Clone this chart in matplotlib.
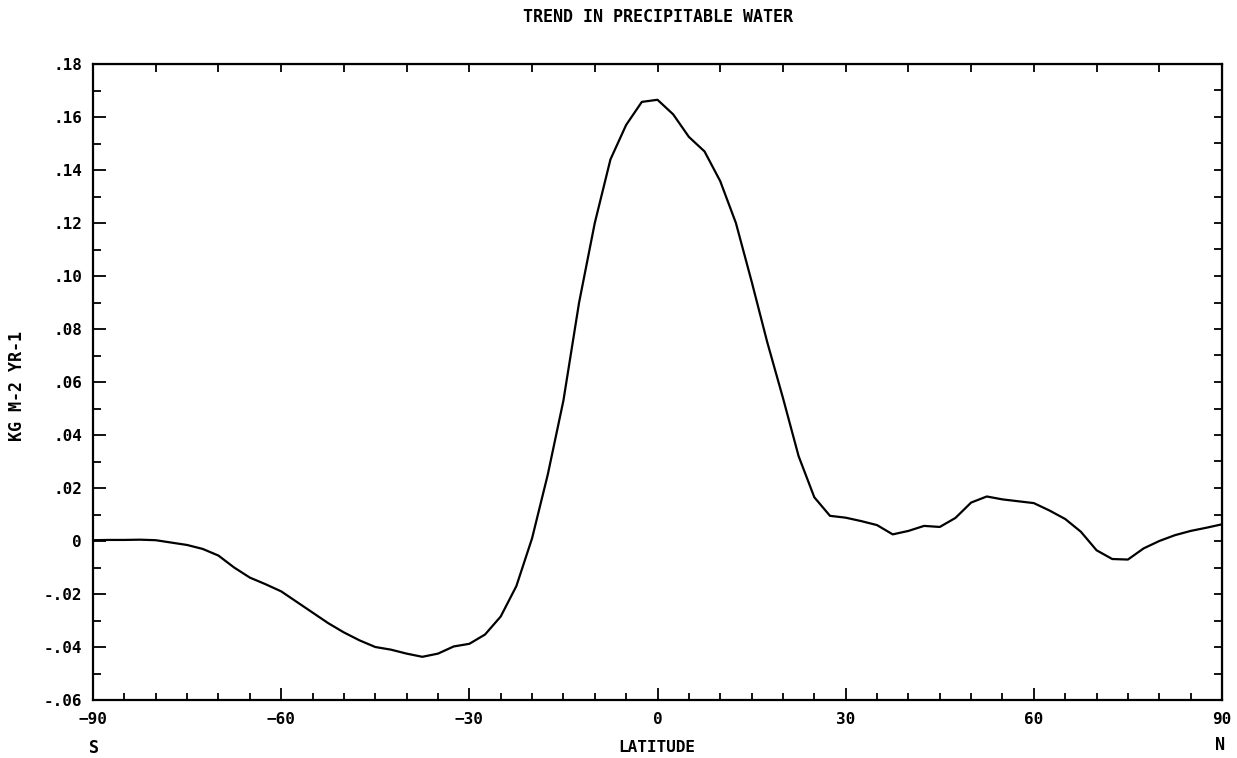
import numpy as np
import matplotlib
matplotlib.use("Agg")
import matplotlib.pyplot as plt
from matplotlib.ticker import MultipleLocator, FuncFormatter

# Zonal-mean trend in precipitable water (kg m-2 yr-1) on a 2.5-degree latitude grid
latitude = np.arange(-90, 90.1, 2.5)
trend = [
    0.0003, 0.0004, 0.0004, 0.0005, 0.0003, -0.0006, -0.0015, -0.0030,
    -0.0055, -0.0100, -0.0138, -0.0163, -0.0190, -0.0230, -0.0270, -0.0310,
    -0.0345, -0.0375, -0.0400, -0.0410, -0.0425, -0.0437, -0.0425, -0.0398,
    -0.0388, -0.0353, -0.0285, -0.0170, 0.0010, 0.0250, 0.0530, 0.0900,
    0.1200, 0.1440, 0.1570, 0.1657, 0.1665, 0.1610, 0.1525, 0.1470,
    0.1358, 0.1200, 0.0980, 0.0750, 0.0540, 0.0320, 0.0165, 0.0095,
    0.0088, 0.0075, 0.0060, 0.0025, 0.0038, 0.0057, 0.0053, 0.0087,
    0.0145, 0.0168, 0.0157, 0.0150, 0.0143, 0.0115, 0.0083, 0.0035,
    -0.0035, -0.0068, -0.0070, -0.0028, 0.0000, 0.0022, 0.0038, 0.0050,
    0.0063,
]

x_ticks = [-90, -60, -30, 0, 30, 60, 90]
y_ticks = [-0.06, -0.04, -0.02, 0.0, 0.02, 0.04, 0.06, 0.08, 0.10,
           0.12, 0.14, 0.16, 0.18]

FONT = "DejaVu Sans Mono"

fig = plt.figure(figsize=(12.37, 7.58), dpi=100)
ax = fig.add_axes([93 / 1237, 1 - 700 / 758, 1129 / 1237, 636 / 758])

ax.plot(latitude, trend, color="black", lw=1.6, solid_joinstyle="round")

ax.set_xlim(-90, 90)
ax.set_ylim(-0.06, 0.18)

for side in ax.spines.values():
    side.set_linewidth(1.6)

# bottom: ticks every 5 degrees, labels every 30
ax.set_xticks(x_ticks)
ax.xaxis.set_minor_locator(MultipleLocator(5))
ax.set_yticks(y_ticks)
ax.yaxis.set_minor_locator(MultipleLocator(0.01))


def ylab(v, _pos=None):
    if abs(v) < 1e-9:
        return "0"
    s = f"{v:.2f}"
    return s.replace("0.", ".")


ax.yaxis.set_major_formatter(FuncFormatter(ylab))
ax.tick_params(axis="both", which="both", direction="in", color="black",
               width=1.3, top=False, right=False)
ax.tick_params(axis="y", which="major", length=9, pad=8)
ax.tick_params(axis="y", which="minor", length=6)
ax.tick_params(axis="x", which="major", length=9, pad=9)
ax.tick_params(axis="x", which="minor", length=5)
for lab in ax.get_xticklabels() + ax.get_yticklabels():
    lab.set_fontfamily(FONT)
    lab.set_fontsize(11.5)
    lab.set_fontweight("bold")

# top ticks every 10 degrees, right ticks every 0.01
top = ax.secondary_xaxis("top")
top.set_xticks(np.arange(-90, 91, 10))
top.tick_params(direction="in", length=6, width=1.3, labeltop=False)
right = ax.secondary_yaxis("right")
right.set_yticks(np.arange(-0.06, 0.181, 0.01))
right.tick_params(direction="in", length=6, width=1.3, labelright=False)

fig.text(658 / 1237, 1 - 17 / 758, "TREND IN PRECIPITABLE WATER", ha="center",
         va="center", family=FONT, fontsize=12, fontweight="bold")
fig.text(17 / 1237, 1 - 386 / 758, "KG M-2 YR-1", rotation=90, ha="center",
         va="center", family=FONT, fontsize=12, fontweight="bold")
fig.text(657 / 1237, 1 - 748 / 758, "LATITUDE", ha="center", va="center",
         family=FONT, fontsize=11.5, fontweight="bold")
fig.text(94 / 1237, 1 - 748 / 758, "S", ha="center", va="center",
         family=FONT, fontsize=12, fontweight="bold")
fig.text(1220 / 1237, 1 - 745 / 758, "N", ha="center", va="center",
         family=FONT, fontsize=12, fontweight="bold")

fig.savefig("out.png", dpi=100, facecolor="white")
